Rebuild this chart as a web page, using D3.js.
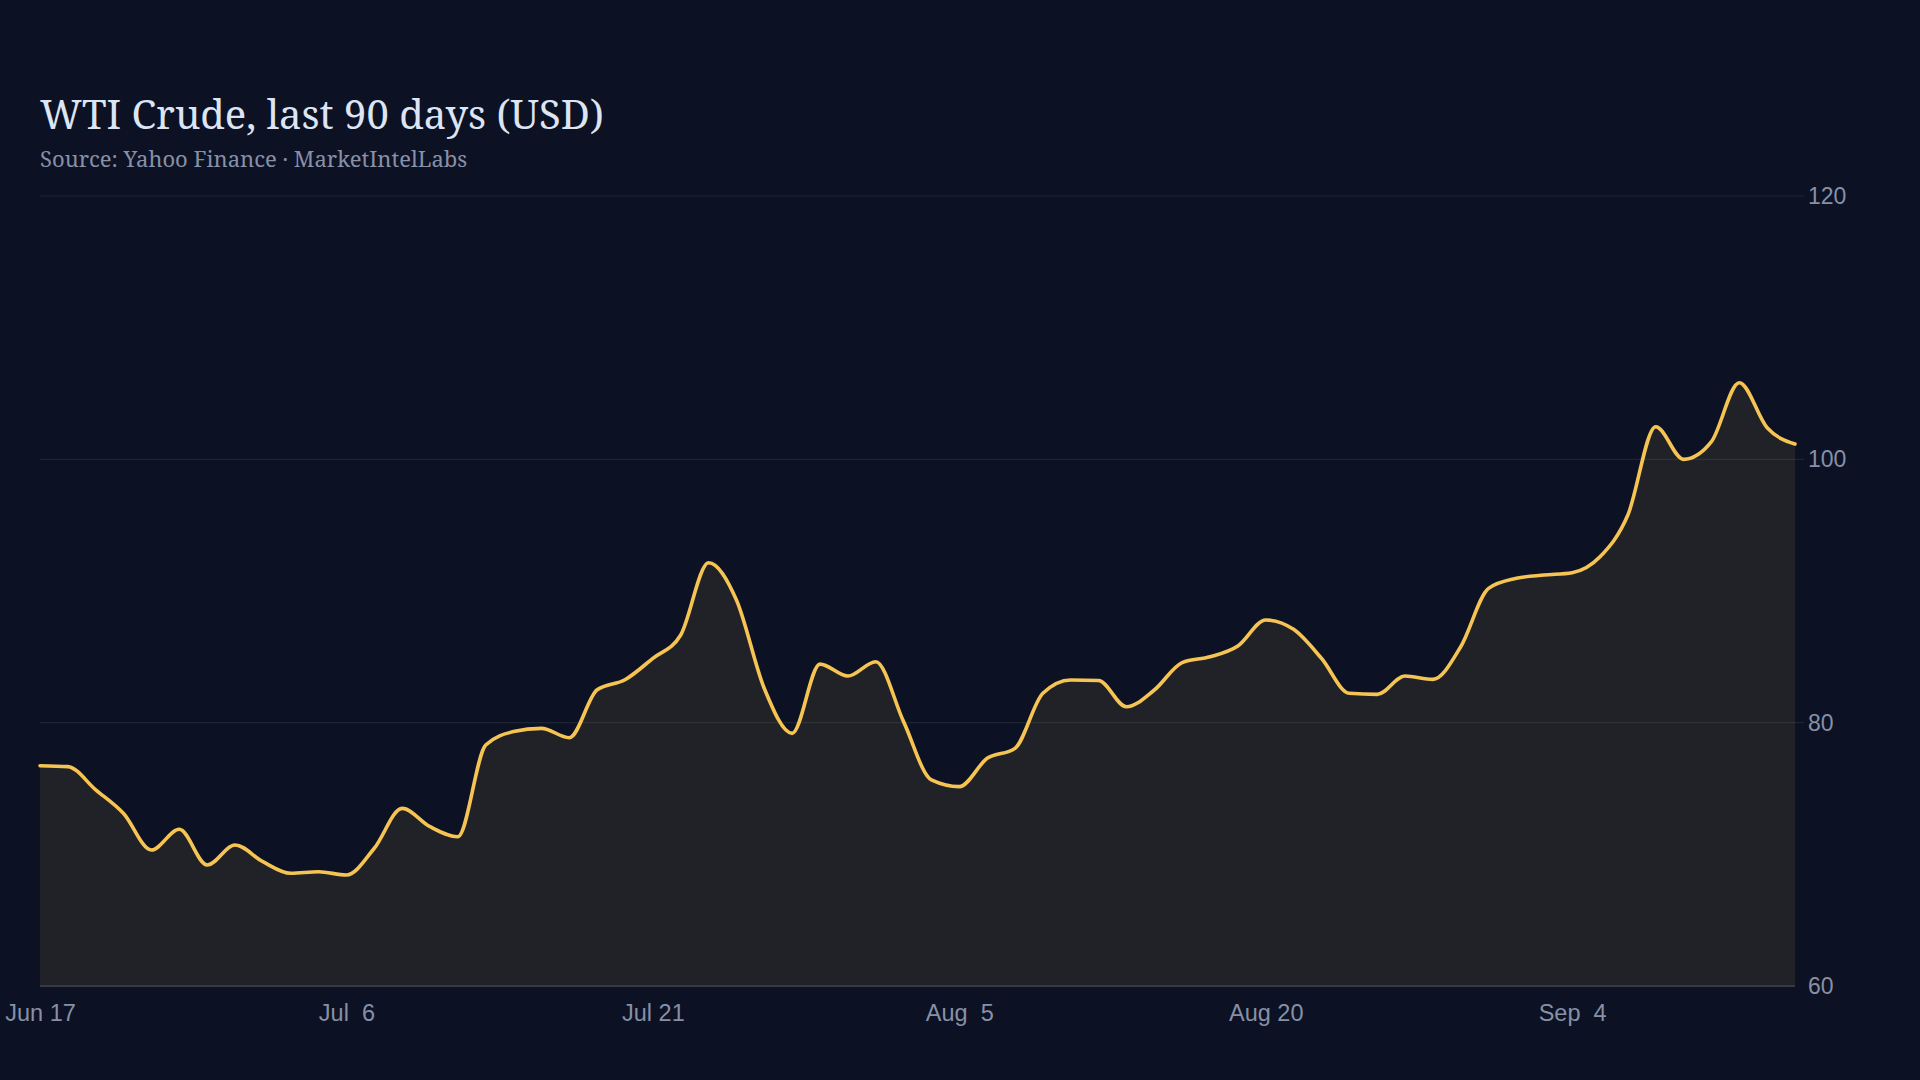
<!DOCTYPE html>
<html>
<head>
<meta charset="utf-8">
<script src="https://cdn.jsdelivr.net/npm/d3@7"></script>
<style>
  html, body { margin: 0; padding: 0; background: #0c1224; }
  svg { display: block; }
</style>
</head>
<body>
<svg id="chart" width="1920" height="1080"></svg>
<script>
// ---- data ----
const prices = [
  76.73, 76.66, 74.9, 73.1, 70.33, 71.9, 69.19, 70.71, 69.44, 68.56,
  68.68, 68.43, 70.46, 73.49, 72.1, 71.34, 78.3, 79.32, 79.57, 78.86,
  82.5, 83.26, 84.89, 86.66, 92.15, 89.32, 82.6, 79.19, 84.45, 83.54,
  84.63, 80.08, 75.65, 75.14, 77.29, 78.05, 82.23, 83.24, 83.2, 81.21,
  82.48, 84.56, 85.0, 85.82, 87.8, 87.09, 84.89, 82.23, 82.15, 83.54,
  83.29, 85.77, 90.2, 90.96, 91.21, 91.39, 92.6, 95.77, 102.48, 100.0,
  101.34, 105.82, 102.4, 101.16
];
const tickIndex = [0, 11, 22, 33, 44, 55];
const tickLabels = ["Jun 17", "Jul  6", "Jul 21", "Aug  5", "Aug 20", "Sep  4"];
const yTicks = [60, 80, 100, 120];
const titleText = "WTI Crude, last 90 days (USD)";
const subtitleText = "Source: Yahoo Finance \u00b7 MarketIntelLabs";

// ---- layout ----
const plotLeft = 40, plotRight = 1795, plotTop = 196, plotBottom = 986;
const lineColor = "#f6c453";

const svg = d3.select("#chart");
svg.append("rect").attr("width", 1920).attr("height", 1080).attr("fill", "#0c1224");

const x = d3.scaleLinear().domain([0, prices.length - 1]).range([plotLeft, plotRight]);
const y = d3.scaleLinear().domain([60, 120]).range([plotBottom, plotTop]);

// title
svg.append("text")
  .attr("x", 40).attr("y", 129)
  .attr("font-family", "'Noto Serif', 'DejaVu Serif', serif")
  .attr("font-size", 40)
  .attr("fill", "#dde5f5")
  .text(titleText);
svg.append("text")
  .attr("x", 40).attr("y", 167)
  .attr("font-family", "'Noto Serif', 'DejaVu Serif', serif")
  .attr("font-size", 22)
  .attr("fill", "#8790a6")
  .text(subtitleText);

// gridlines
svg.append("g").selectAll("line").data(yTicks.filter(d => d !== 60)).join("line")
  .attr("x1", plotLeft).attr("x2", plotRight + 9)
  .attr("y1", d => y(d)).attr("y2", d => y(d))
  .attr("stroke", "#1d2434").attr("stroke-width", 1.2);

// area + line
const area = d3.area()
  .x((d, i) => x(i)).y0(y(60)).y1(d => y(d))
  .curve(d3.curveMonotoneX);
const line = d3.line()
  .x((d, i) => x(i)).y(d => y(d))
  .curve(d3.curveMonotoneX);

svg.append("path").datum(prices)
  .attr("d", area)
  .attr("fill", lineColor).attr("fill-opacity", 0.09);

// baseline
svg.append("line")
  .attr("x1", plotLeft).attr("x2", plotRight)
  .attr("y1", y(60)).attr("y2", y(60))
  .attr("stroke", "#363a43").attr("stroke-width", 2);

svg.append("path").datum(prices)
  .attr("d", line)
  .attr("fill", "none")
  .attr("stroke", lineColor)
  .attr("stroke-width", 3.6)
  .attr("stroke-linejoin", "round")
  .attr("stroke-linecap", "round");

// y axis (right)
const yAxis = d3.axisRight(y).tickValues(yTicks).tickSize(0).tickPadding(13);
const gy = svg.append("g").attr("transform", `translate(${plotRight},0)`).call(yAxis);
gy.select(".domain").remove();
gy.selectAll("text")
  .attr("fill", "#8790a6")
  .attr("font-family", "'Liberation Sans', Arial, sans-serif")
  .attr("font-size", 23);

// x axis
const xAxis = d3.axisBottom(x).tickValues(tickIndex)
  .tickFormat((d, i) => tickLabels[i]).tickSize(0).tickPadding(18);
const gx = svg.append("g").attr("transform", `translate(0,${plotBottom})`).call(xAxis);
gx.select(".domain").remove();
gx.selectAll("text")
  .attr("fill", "#8790a6")
  .attr("font-family", "'Liberation Sans', Arial, sans-serif")
  .attr("font-size", 23.5)
  .style("white-space", "pre");
</script>
</body>
</html>
